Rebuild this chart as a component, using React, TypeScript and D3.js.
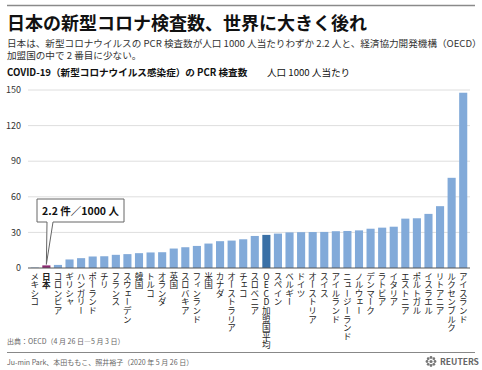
import React from 'react';
import * as d3 from 'd3';

// PCR tests per 1000 people (OECD, Apr 26 - May 3)
const countries = [
  'メキシコ', '日本', 'コロンビア', 'ギリシャ', 'ハンガリー', 'ポーランド', 'チリ', 'フランス',
  'スウェーデン', '韓国', 'トルコ', 'オランダ', '英国', 'スロバキア', 'フィンランド', '米国',
  'カナダ', 'オーストラリア', 'チェコ', 'スロベニア', 'OECD加盟国平均', 'スペイン', 'ベルギー',
  'ドイツ', 'オーストリア', 'スイス', 'アイルランド', 'ニュージーランド', 'ノルウェー',
  'デンマーク', 'ラトビア', 'イタリア', 'エストニア', 'ポルトガル', 'イスラエル', 'リトアニア',
  'ルクセンブルク', 'アイスランド',
];
const tests = [
  0.4, 2.2, 2.6, 7.2, 8.3, 9.7, 9.9, 11.1, 11.7, 12.5, 13.1, 13.3, 16.4, 17.5, 18.6, 20.6,
  22.6, 23.1, 24.2, 27.0, 27.9, 29.0, 30.0, 30.2, 30.3, 30.4, 31.0, 31.2, 31.7, 33.1, 34.0,
  34.8, 41.6, 41.9, 45.6, 52.1, 76.0, 147.7,
];
const yTicks = [0, 30, 60, 90, 120, 150];
const subtitleLines = [
  '日本は、新型コロナウイルスの PCR 検査数が人口 1000 人当たりわずか 2.2 人と、経済協力開発機構（OECD）',
  '加盟国の中で 2 番目に少ない。',
];

const FONT = '"Noto Sans CJK JP", "Noto Sans", sans-serif';
const W = 482;
const H = 370;

export default function App() {
  const x = d3.scaleBand<string>()
    .domain(countries)
    .range([29, 469])
    .paddingInner(0.3)
    .paddingOuter(0.15);
  const y = d3.scaleLinear().domain([0, 150]).range([268, 90]);

  const color = (c: string) =>
    c === '日本' ? '#8c2a72' : c === 'OECD加盟国平均' ? '#3a70a6' : '#82aad9';

  // callout tail points at Japan bar
  const jx = (x('日本') ?? 0) + x.bandwidth() / 2;
  const jy = y(2.2) - 1;
  const box = { x: 37, y: 199, w: 87, h: 23 };

  return (
    <svg width={W} height={H} style={{ position: 'absolute', left: 0, top: 0, fontFamily: FONT }}>
      <rect width={W} height={H} fill="#fff" />
      <line x1={7} x2={475} y1={5.5} y2={5.5} stroke="#8a8a8a" strokeWidth={1.5} />
      <text x={7} y={30} fontSize={18} fontWeight="bold" fill="#111">
        日本の新型コロナ検査数、世界に大きく後れ
      </text>
      <text x={7} y={46.5} fontSize={9.6} fill="#333">
        {subtitleLines.map((l, i) => (
          <tspan key={i} x={7} dy={i === 0 ? 0 : 12}>{l}</tspan>
        ))}
      </text>
      <text x={7} y={76} fontSize={9.6} fill="#111">
        <tspan fontWeight="bold">COVID-19（新型コロナウイルス感染症）の PCR 検査数</tspan>
        <tspan x={267}>人口 1000 人当たり</tspan>
      </text>

      {yTicks.map(t => (
        <g key={t}>
          {t > 0 && (
            <line x1={28} x2={470} y1={y(t)} y2={y(t)} stroke="#dedede" strokeWidth={1} />
          )}
          <text x={21} y={y(t)} dy="0.35em" textAnchor="end" fontSize={9} fill="#333">
            {t}
          </text>
        </g>
      ))}

      {countries.map((c, i) => (
        <rect
          key={c}
          x={x(c)}
          y={y(tests[i])}
          width={x.bandwidth()}
          height={y(0) - y(tests[i])}
          fill={color(c)}
        />
      ))}
      <line x1={28} x2={470} y1={y(0)} y2={y(0)} stroke="#555" strokeWidth={1} />

      {countries.map(c => (
        <text
          key={c}
          x={(x(c) ?? 0) + x.bandwidth() / 2}
          y={272}
          fontSize={8.6}
          fontWeight={c === '日本' ? 'bold' : 'normal'}
          fill="#222"
          style={{ writingMode: 'vertical-rl', textOrientation: 'upright' } as any}
        >
          {c}
        </text>
      ))}

      <path
        d={`M${box.x},${box.y} H${box.x + box.w} V${box.y + box.h} H${box.x + 16} L${jx},${jy} L${box.x + 10},${box.y + box.h} H${box.x} Z`}
        fill="#fff"
        stroke="#666"
        strokeWidth={1}
      />
      <text x={box.x + box.w / 2} y={box.y + 15.5} textAnchor="middle" fontSize={10.5} fontWeight="bold" fill="#111">
        2.2 件／1000 人
      </text>

      <text x={7} y={344} fontSize={7} fill="#666">
        出典：OECD（4 月 26 日―5 月 3 日）
      </text>
      <line x1={7} x2={475} y1={352.5} y2={352.5} stroke="#888" strokeWidth={1} />
      <text x={7} y={365} fontSize={7} fill="#666">
        Ju-min Park、本田ももこ、照井裕子（2020 年 5 月 26 日）
      </text>
      <g transform="translate(431,361.5)">
        {d3.range(8).map(k => {
          const a = (k / 8) * 2 * Math.PI;
          return <circle key={k} cx={Math.cos(a) * 4} cy={Math.sin(a) * 4} r={1.4} fill="#777" />;
        })}
        <circle r={1.6} fill="#777" />
      </g>
      <text x={440} y={365} fontSize={8.5} fontWeight="bold" fill="#666">
        REUTERS
      </text>
    </svg>
  );
}
